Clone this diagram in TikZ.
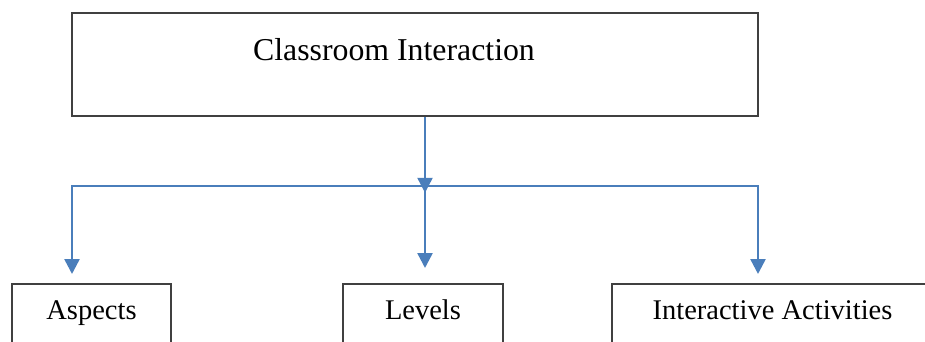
\documentclass[tikz,border=0pt]{standalone}
\usepackage{fontspec}
\setmainfont{Liberation Serif}
\usetikzlibrary{arrows.meta}
\definecolor{linkblue}{HTML}{4A7EBB}
\begin{document}
\begin{tikzpicture}[x=0.5pt, y=-0.5pt, >={Triangle[length=7.5pt, width=7.5pt]},
  box/.style={draw=black!75, line width=0.75pt, inner sep=0pt},
  leaf/.style={box, anchor=north, text height=18pt, text depth=20pt,
    font=\fontsize{14.25}{17}\selectfont},
  link/.style={draw=linkblue, line width=1.25pt}]
  \useasboundingbox (0,0) rectangle (925,342);
  \clip (0,0) rectangle (925,342);
  % top box
  \node[box, minimum width=343pt, minimum height=51.5pt] (root) at (415,64.5) {};
  \node[font=\fontsize{15.9}{19}\selectfont] (title) at (394,50) {Classroom Interaction};
  % bottom boxes
  \node[leaf, minimum width=79.5pt] (aspects) at (91.5,283) {Aspects};
  \node[leaf, minimum width=80pt] (levels) at (423,283) {Levels};
  \node[leaf, minimum width=160.5pt] (inter) at (772.5,283) {Interactive Activities};
  % connectors
  \coordinate (hub) at (425,186);
  \coordinate (hubL) at (72,186);
  \coordinate (hubR) at (758,186);
  \draw[link, ->] (root.south -| hub) -- ++(0,76);
  \draw[link, ->, shorten >=4.5pt] (hub) -- (hubL) -- (hubL |- aspects.north);
  \draw[link, ->, shorten >=4.5pt] (hub) -- (hubR) -- (hubR |- inter.north);
  \draw[link, ->, shorten >=7.5pt] (hub) -- (hub |- levels.north);
\end{tikzpicture}
\end{document}
